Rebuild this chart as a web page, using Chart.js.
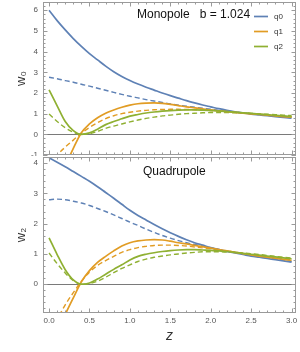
<!DOCTYPE html>
<html>
<head>
<meta charset="utf-8">
<script src="https://cdn.jsdelivr.net/npm/chart.js@4.4.1/dist/chart.umd.min.js"></script>
<style>
  body { margin: 0; background: #fff; }
  #wrap { position: relative; width: 300px; height: 352px; }
  canvas { position: absolute; left: 0; }
</style>
</head>
<body>
<div id="wrap">
  <canvas id="mono" width="300" height="156" style="top:0"></canvas>
  <canvas id="quad" width="300" height="197" style="top:155px"></canvas>
</div>
<script>
// z grid shared by every curve
const z = [0.0, 0.1, 0.2, 0.3, 0.4, 0.5, 0.6, 0.7, 0.8, 0.9, 1.0, 1.1, 1.2, 1.3, 1.4, 1.5,
           1.6, 1.7, 1.8, 1.9, 2.0, 2.1, 2.2, 2.3, 2.4, 2.5, 2.6, 2.7, 2.8, 2.9, 3.0];

// Monopole w0 (solid / dashed)
const monoQ0  = [6.0, 5.5, 5.05, 4.63, 4.25, 3.9, 3.6, 3.3, 3.03, 2.8, 2.6, 2.43, 2.28, 2.14, 2.0, 1.87,
                 1.75, 1.63, 1.52, 1.42, 1.33, 1.24, 1.16, 1.09, 1.03, 0.98, 0.94, 0.9, 0.86, 0.82, 0.78];
const monoQ0d = [2.76, 2.69, 2.6, 2.52, 2.42, 2.33, 2.23, 2.13, 2.03, 1.93, 1.84, 1.76, 1.68, 1.61, 1.54, 1.47,
                 1.41, 1.36, 1.31, 1.26, 1.21, 1.16, 1.12, 1.08, 1.04, 1.0, 0.96, 0.92, 0.88, 0.84, 0.8];
const monoQ1  = [-3.5, -2.5, -1.55, -0.68, 0.08, 0.5, 0.8, 1.02, 1.18, 1.31, 1.41, 1.48, 1.51, 1.52, 1.5, 1.45,
                 1.39, 1.33, 1.28, 1.23, 1.18, 1.14, 1.1, 1.06, 1.02, 0.99, 0.96, 0.93, 0.89, 0.86, 0.83];
const monoQ1d = [-1.4, -1.0, -0.62, -0.28, 0.06, 0.33, 0.56, 0.76, 0.9, 1.0, 1.07, 1.12, 1.16, 1.19, 1.2, 1.21,
                 1.21, 1.2, 1.19, 1.17, 1.15, 1.12, 1.09, 1.06, 1.03, 1.0, 0.97, 0.94, 0.91, 0.88, 0.85];
const monoQ2  = [2.15, 1.38, 0.62, 0.18, 0.0, 0.07, 0.25, 0.47, 0.62, 0.75, 0.88, 0.96, 1.03, 1.08, 1.12, 1.15,
                 1.17, 1.18, 1.18, 1.17, 1.15, 1.13, 1.1, 1.07, 1.04, 1.01, 0.98, 0.95, 0.92, 0.89, 0.86];
const monoQ2d = [0.98, 0.62, 0.32, 0.1, 0.0, 0.03, 0.14, 0.29, 0.4, 0.5, 0.6, 0.69, 0.77, 0.83, 0.89, 0.93,
                 0.97, 1.0, 1.02, 1.04, 1.05, 1.05, 1.05, 1.04, 1.03, 1.01, 0.99, 0.97, 0.95, 0.93, 0.91];

// Quadrupole w2 (solid / dashed)
const quadQ0  = [4.17, 4.03, 3.88, 3.72, 3.56, 3.4, 3.22, 3.03, 2.84, 2.64, 2.44, 2.27, 2.12, 1.97, 1.83, 1.7,
                 1.58, 1.47, 1.37, 1.29, 1.21, 1.14, 1.08, 1.03, 0.98, 0.93, 0.89, 0.85, 0.81, 0.77, 0.73];
const quadQ0d = [2.79, 2.81, 2.79, 2.74, 2.68, 2.6, 2.5, 2.4, 2.29, 2.17, 2.05, 1.94, 1.82, 1.71, 1.61, 1.52,
                 1.44, 1.37, 1.31, 1.26, 1.2, 1.15, 1.1, 1.05, 1.0, 0.96, 0.92, 0.87, 0.83, 0.79, 0.75];
const quadQ1  = [-2.2, -1.6, -1.0, -0.45, 0.08, 0.45, 0.72, 0.92, 1.1, 1.26, 1.37, 1.43, 1.46, 1.47, 1.46, 1.42,
                 1.37, 1.33, 1.28, 1.24, 1.19, 1.14, 1.1, 1.05, 1.01, 0.97, 0.93, 0.89, 0.86, 0.82, 0.79];
const quadQ1d = [-1.75, -1.18, -0.68, -0.28, 0.1, 0.4, 0.62, 0.78, 0.92, 1.05, 1.14, 1.21, 1.25, 1.28, 1.29, 1.29,
                 1.28, 1.26, 1.23, 1.2, 1.17, 1.13, 1.1, 1.06, 1.02, 0.98, 0.94, 0.9, 0.87, 0.83, 0.8];
const quadQ2  = [1.53, 0.98, 0.48, 0.14, 0.0, 0.04, 0.17, 0.33, 0.49, 0.64, 0.8, 0.92, 0.99, 1.04, 1.08, 1.11,
                 1.13, 1.14, 1.14, 1.13, 1.12, 1.1, 1.08, 1.05, 1.02, 0.99, 0.96, 0.93, 0.9, 0.87, 0.84];
const quadQ2d = [1.03, 0.68, 0.37, 0.12, 0.0, 0.02, 0.1, 0.23, 0.38, 0.52, 0.64, 0.75, 0.83, 0.89, 0.93, 0.97,
                 1.0, 1.03, 1.05, 1.07, 1.07, 1.07, 1.06, 1.05, 1.03, 1.01, 0.98, 0.95, 0.92, 0.89, 0.86];

const seriesNames = ['q0', 'q1', 'q2'];
const colors = ['#5e81b5', '#e19c24', '#8fb032'];

const pts = arr => arr.map((v, i) => ({ x: z[i], y: v }));

function makeSets(solid, dashed) {
  const sets = [];
  solid.forEach((arr, i) => sets.push({
    label: seriesNames[i], data: pts(arr), borderColor: colors[i], borderWidth: 1.7,
    pointRadius: 0, cubicInterpolationMode: 'monotone', order: 3 - i
  }));
  dashed.forEach((arr, i) => sets.push({
    label: seriesNames[i] + ' dashed', data: pts(arr), borderColor: colors[i], borderWidth: 1.4,
    borderDash: [5, 3], pointRadius: 0, cubicInterpolationMode: 'monotone', order: 6 - i
  }));
  return sets;
}

// frame with inward ticks on all four sides (Mathematica style)
const frame = {
  id: 'frame',
  afterDatasetsDraw(chart) {
    const { ctx, chartArea: a, scales: { x, y } } = chart;
    ctx.save();
    ctx.strokeStyle = '#9a9a9a';
    ctx.lineWidth = 1;
    ctx.strokeRect(a.left + 0.5, a.top + 0.5, a.right - a.left - 1, a.bottom - a.top - 1);
    ctx.beginPath();
    for (let i = Math.ceil(x.min * 10); i <= Math.floor(x.max * 10); i++) {
      const px = Math.round(x.getPixelForValue(i / 10)) + 0.5;
      const len = i % 5 === 0 ? 4.5 : 2.5;
      ctx.moveTo(px, a.bottom); ctx.lineTo(px, a.bottom - len);
      ctx.moveTo(px, a.top); ctx.lineTo(px, a.top + len);
    }
    for (let i = Math.ceil(y.min * 5); i <= Math.floor(y.max * 5); i++) {
      const py = Math.round(y.getPixelForValue(i / 5)) + 0.5;
      const len = i % 5 === 0 ? 4.5 : 2.5;
      ctx.moveTo(a.left, py); ctx.lineTo(a.left + len, py);
      ctx.moveTo(a.right, py); ctx.lineTo(a.right - len, py);
    }
    ctx.stroke();
    ctx.restore();
  }
};

// panel caption and legend inside the plot area
const notes = {
  id: 'notes',
  afterDraw(chart, args, opts) {
    const { ctx } = chart;
    ctx.save();
    ctx.fillStyle = '#111';
    ctx.font = '12px "Liberation Sans", Arial, sans-serif';
    ctx.textBaseline = 'middle';
    ctx.fillText(opts.text, opts.x, opts.y);
    if (opts.legend) {
      ctx.font = '8px "Liberation Sans", Arial, sans-serif';
      seriesNames.forEach((name, i) => {
        const ly = 16.5 + i * 15;
        ctx.strokeStyle = colors[i];
        ctx.lineWidth = 1.7;
        ctx.beginPath(); ctx.moveTo(254, ly); ctx.lineTo(268, ly); ctx.stroke();
        ctx.fillStyle = '#333';
        ctx.fillText(name, 274, ly);
      });
    }
    ctx.restore();
  }
};

const tickFont = { family: '"Liberation Sans", Arial, sans-serif', size: 8 };
const zeroGrid = {
  drawTicks: false,
  color: c => c.tick && c.tick.value === 0 ? '#7a7a7a' : 'rgba(0,0,0,0)',
  lineWidth: 1
};

// no extra room for the end labels: the frame sits right at the layout padding
const noEdgePad = s => { s.paddingTop = 0; s.paddingBottom = 0; s.paddingLeft = 0; s.paddingRight = 0; };

function yAxis(min, max, title) {
  return {
    type: 'linear', min, max,
    border: { display: false },
    grid: zeroGrid,
    ticks: { stepSize: 1, includeBounds: false, font: tickFont, color: '#555', padding: 5 },
    title: { display: true, text: title, color: '#333',
             font: { family: '"Liberation Sans", Arial, sans-serif', size: 13 }, padding: { top: 14, bottom: 0 } },
    afterFit: s => { s.width = 43; noEdgePad(s); }
  };
}

new Chart(document.getElementById('mono'), {
  type: 'line',
  data: { datasets: makeSets([monoQ0, monoQ1, monoQ2], [monoQ0d, monoQ1d, monoQ2d]) },
  options: {
    responsive: false, animation: false,
    layout: { padding: { top: 2, right: 4, bottom: 1, left: 0 } },
    plugins: { legend: { display: false }, tooltip: { enabled: false },
               notes: { text: 'Monopole   b = 1.024', x: 137, y: 15, legend: true } },
    scales: {
      x: { type: 'linear', min: -0.075, max: 3.055, display: false },
      y: yAxis(-1, 6.4, 'w\u2080')
    }
  },
  plugins: [frame, notes]
});

new Chart(document.getElementById('quad'), {
  type: 'line',
  data: { datasets: makeSets([quadQ0, quadQ1, quadQ2], [quadQ0d, quadQ1d, quadQ2d]) },
  options: {
    responsive: false, animation: false,
    layout: { padding: { top: 2, right: 4, bottom: 0, left: 0 } },
    plugins: { legend: { display: false }, tooltip: { enabled: false },
               notes: { text: 'Quadrupole', x: 143, y: 17, legend: false } },
    scales: {
      x: {
        type: 'linear', min: -0.075, max: 3.055,
        border: { display: false },
        grid: { display: false, drawTicks: false },
        ticks: { stepSize: 0.5, includeBounds: false, font: tickFont, color: '#555', padding: 3,
                 maxRotation: 0, callback: v => v.toFixed(1) },
        title: { display: true, text: 'z', color: '#333',
                 font: { family: '"Liberation Sans", Arial, sans-serif', size: 14, style: 'italic' },
                 padding: { top: 0, bottom: 7 } },
        afterFit: s => { s.height = 39; noEdgePad(s); }
      },
      y: yAxis(-0.95, 4.2, 'w\u2082')
    }
  },
  plugins: [frame, notes]
});
</script>
</body>
</html>
